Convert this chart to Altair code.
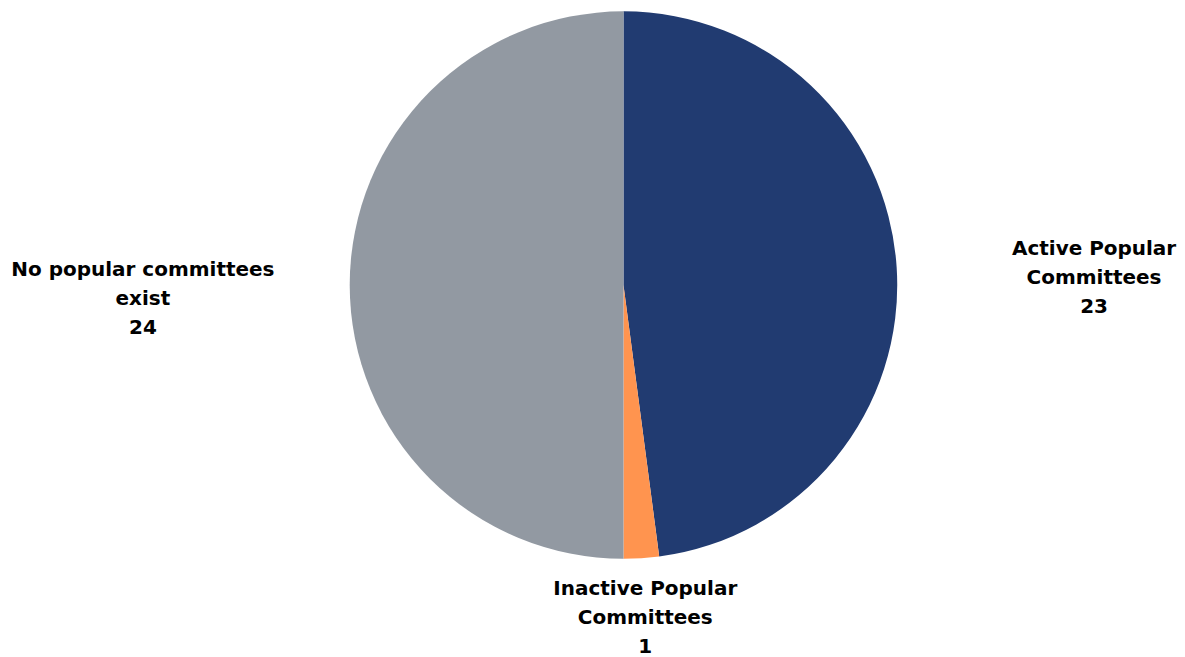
import altair as alt
import pandas as pd

categories = ["Active Popular Committees", "Inactive Popular Committees", "No popular committees exist"]
labels = ["Active Popular\nCommittees\n23", "Inactive Popular\nCommittees\n1", "No popular committees\nexist\n24"]
values = [23, 1, 24]
colors = ["#213B71", "#FF944F", "#9299A2"]

df = pd.DataFrame({"category": categories, "value": values, "label": labels})

CX, CY = 616, 277

base = alt.Chart(df).encode(
    theta=alt.Theta("value:Q", stack=True),
    order=alt.Order("category:N", sort="ascending"),
)

pie = base.mark_arc(radius=274).encode(
    color=alt.Color("category:N", scale=alt.Scale(domain=categories, range=colors), legend=None),
    x=alt.value(CX),
    y=alt.value(CY),
)

label_style = dict(fontSize=20, fontWeight="bold", font="DejaVu Sans", lineBreak="\n",
                   align="center", baseline="middle", lineHeight=29, color="#000000")

placements = [
    (categories[0], 472, 0, -5),
    (categories[1], 334, 0, -29),
    (categories[2], 481, 0, -15),
]

layers = [pie]
for cat, r, dx, dy in placements:
    layers.append(
        base.mark_text(radius=r, dx=dx, dy=dy, **label_style).encode(
            text=alt.condition(alt.datum.category == cat, "label:N", alt.value("")),
            x=alt.value(CX),
            y=alt.value(CY),
        )
    )

chart = alt.layer(*layers).properties(width=1160, height=630, padding=0).configure_view(stroke=None)

chart.save("out.html", embed_options={"renderer": "svg", "actions": False})
